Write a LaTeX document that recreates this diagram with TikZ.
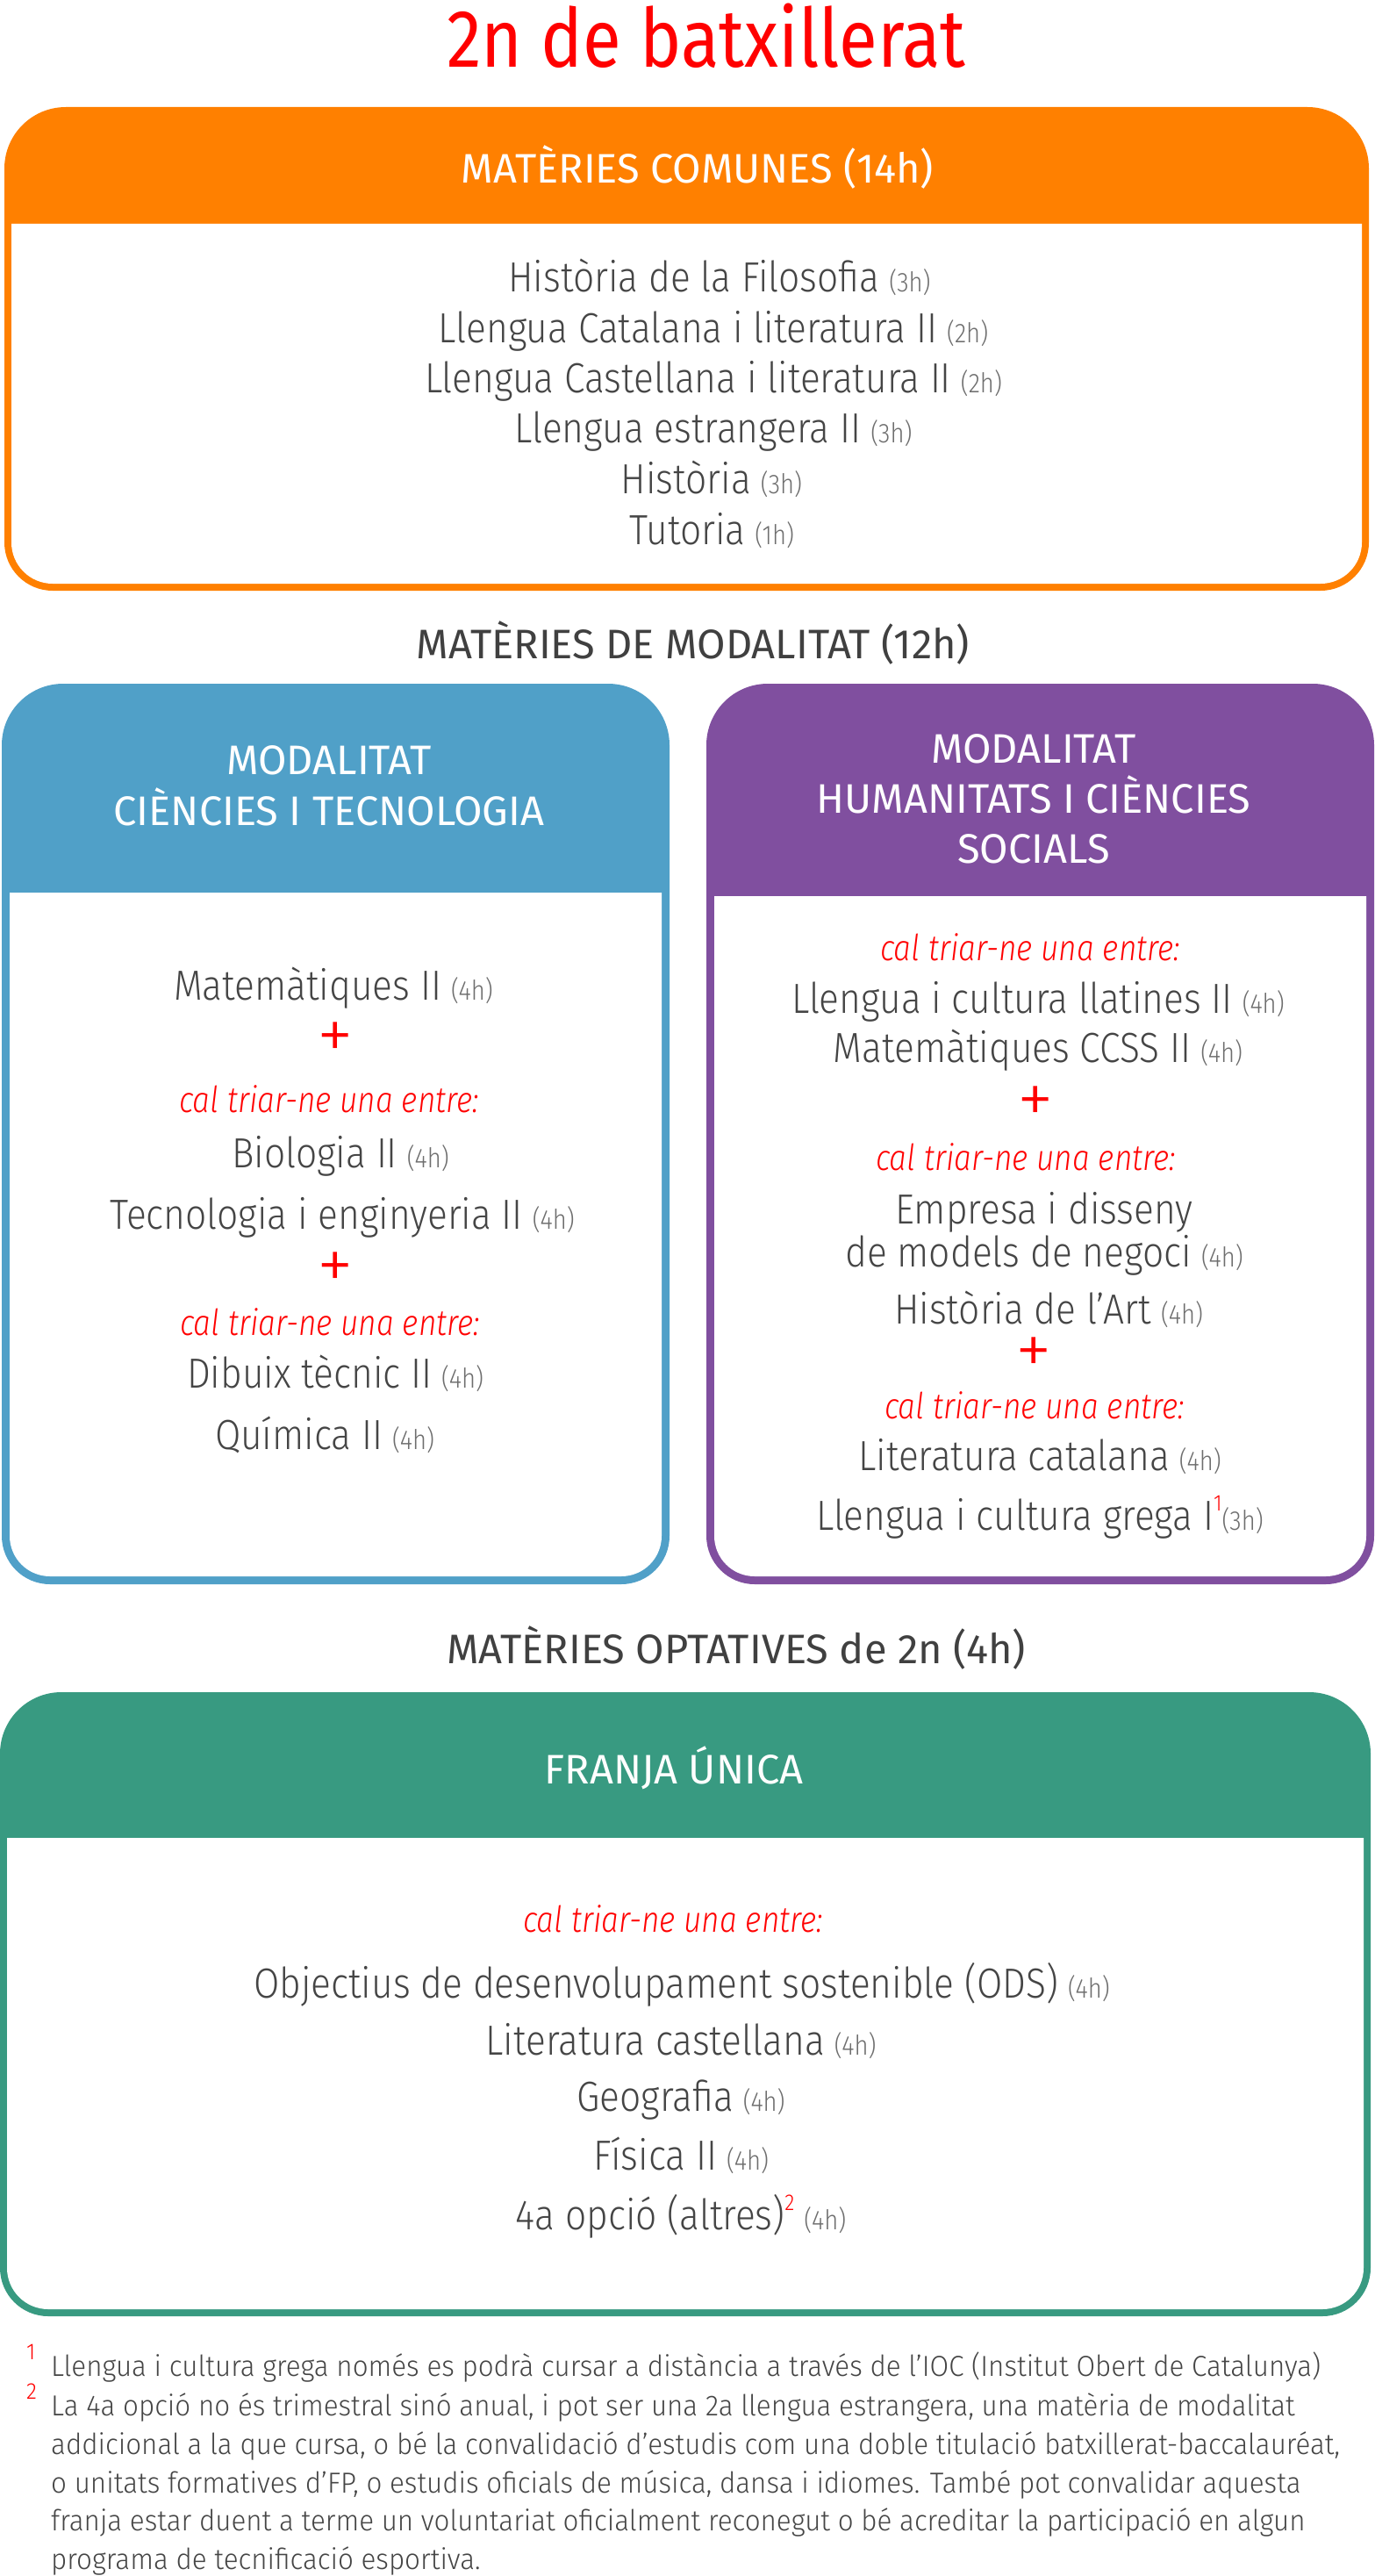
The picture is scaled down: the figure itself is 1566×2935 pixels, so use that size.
\documentclass[tikz,border=0pt]{standalone}
\usepackage{fontspec}
\setmainfont{Fira Sans Light}[FakeStretch=0.885, ItalicFont={Fira Sans Light Italic}, BoldFont={Fira Sans}]
\newfontfamily\fnfont{Fira Sans Light}[FakeStretch=0.95]
\newfontfamily\capfont{Fira Sans}
\newfontfamily\titlefont{Fira Sans}[FakeStretch=0.86]
\newfontfamily\itfont{Fira Sans Light Italic}[FakeStretch=0.86]
\newfontfamily\plusfont{Fira Sans Light}
\definecolor{corange}{HTML}{FF8000}
\definecolor{cblue}{HTML}{50A0C8}
\definecolor{cpurple}{HTML}{804F9F}
\definecolor{cgreen}{HTML}{389A81}
\definecolor{cred}{HTML}{FF0000}
\definecolor{tgray}{HTML}{454545}
\definecolor{hgray}{HTML}{6E6E6E}
\definecolor{sgray}{HTML}{404040}
\newcommand\hrs[1]{\hspace{11pt}{\fontsize{31}{31}\selectfont\color{hgray}(#1)}}
\newcommand\fnsup[1]{\raisebox{22pt}{\fontsize{26}{26}\selectfont\color{cred}#1}}
% x1 y1 x2 y2 headerbottom colour border
\newcommand\catbox[7]{%
  \fill[#6] (#1,#2+70) arc[start angle=180,end angle=270,radius=70] -- (#3-70,#2)
    arc[start angle=270,end angle=360,radius=70] -- (#3,#4-55)
    arc[start angle=0,end angle=90,radius=55] -- (#1+55,#4)
    arc[start angle=90,end angle=180,radius=55] -- cycle;
  \fill[white] (#1+#7,#5) -- (#3-#7,#5) -- (#3-#7,#4-55)
    arc[start angle=0,end angle=90,radius=55-#7] -- (#1+55,#4-#7)
    arc[start angle=90,end angle=180,radius=55-#7] -- cycle;
}
\tikzset{
  txt/.style={anchor=base, inner sep=0pt, text=tgray, font=\fontsize{48}{58}\selectfont},
  hdr/.style={anchor=base, inner sep=0pt, text=white, font=\capfont\fontsize{47}{57}\selectfont},
  sect/.style={anchor=base, inner sep=0pt, text=sgray, font=\capfont\fontsize{47}{57}\selectfont},
  choose/.style={anchor=base, inner sep=0pt, text=cred, font=\itfont\fontsize{41}{50}\selectfont},
  plus/.style={anchor=center, inner sep=0pt, text=cred, text height=30pt, text depth=0pt, font=\plusfont\fontsize{84}{84}\selectfont},
  fn/.style={anchor=base west, inner sep=0pt, text=tgray, font=\fnfont\fontsize{33}{40}\selectfont},
  fnmark/.style={anchor=base west, inner sep=0pt, text=cred, font=\fnfont\fontsize{26}{26}\selectfont},
}
\begin{document}
\begin{tikzpicture}[x=1pt,y=-1pt]
\useasboundingbox (0,0) rectangle (1566,2935);
% title
\node[anchor=base, inner sep=0pt, text=cred, font=\titlefont\fontsize{93}{100}\selectfont] (title) at (805,77) {2n de batxillerat};
% common subjects
\catbox{5}{122}{1560}{673}{255}{corange}{8}
\node[hdr] (comh) at (795,209) {MATÈRIES COMUNES (14h)};
\node[txt] (c1) at (820,333) {Història de la Filosofia\hrs{3h}};
\node[txt] (c2) at (813,390) {Llengua Catalana i literatura II\hrs{2h}};
\node[txt] (c3) at (813,447) {Llengua Castellana i literatura II\hrs{2h}};
\node[txt] (c4) at (813,504) {Llengua estrangera II\hrs{3h}};
\node[txt] (c5) at (811,562) {Història\hrs{3h}};
\node[txt] (c6) at (811,620) {Tutoria\hrs{1h}};
% modality
\node[sect] (modt) at (790,750) {MATÈRIES DE MODALITAT (12h)};
\catbox{2}{779}{763}{1805}{1017}{cblue}{9}
\node[hdr] (bh1) at (375,882) {MODALITAT};
\node[hdr] (bh2) at (375,940) {CIÈNCIES I TECNOLOGIA};
\node[txt] (b1) at (380,1139) {Matemàtiques II\hrs{4h}};
\node[plus] (bp1) at (382,1192) {+};
\node[choose] (bc1) at (375,1267) {cal triar-ne una entre:};
\node[txt] (b2) at (388,1330) {Biologia II\hrs{4h}};
\node[txt] (b3) at (390,1400) {Tecnologia i enginyeria II\hrs{4h}};
\node[plus] (bp2) at (382,1454) {+};
\node[choose] (bc2) at (376,1521) {cal triar-ne una entre:};
\node[txt] (b4) at (382,1581) {Dibuix tècnic II\hrs{4h}};
\node[txt] (b5) at (370,1651) {Química II\hrs{4h}};
\catbox{805}{779}{1566}{1805}{1021}{cpurple}{9}
\node[hdr] (ph1) at (1178,869) {MODALITAT};
\node[hdr] (ph2) at (1178,926) {HUMANITATS I CIÈNCIES};
\node[hdr] (ph3) at (1178,983) {SOCIALS};
\node[choose] (pc1) at (1174,1094) {cal triar-ne una entre:};
\node[txt] (p1) at (1183,1154) {Llengua i cultura llatines II\hrs{4h}};
\node[txt] (p2) at (1183,1210) {Matemàtiques CCSS II\hrs{4h}};
\node[plus] (pp1) at (1180,1265) {+};
\node[choose] (pc2) at (1169,1333) {cal triar-ne una entre:};
\node[txt] (p3) at (1190,1394) {Empresa i disseny};
\node[txt] (p4) at (1190,1443) {de models de negoci\hrs{4h}};
\node[txt] (p5) at (1195,1508) {Història de l’Art\hrs{4h}};
\node[plus] (pp2) at (1178,1551) {+};
\node[choose] (pc3) at (1179,1616) {cal triar-ne una entre:};
\node[txt] (p6) at (1185,1675) {Literatura catalana\hrs{4h}};
\node[txt] (p7) at (1185,1743) {Llengua i cultura grega I\fnsup{1}{\fontsize{31}{31}\selectfont\color{hgray}(3h)}};
% optional
\node[sect] (optt) at (839,1895) {MATÈRIES OPTATIVES de 2n (4h)};
\catbox{0}{1928}{1562}{2639}{2094}{cgreen}{8}
\node[hdr] (gh) at (768,2032) {FRANJA ÚNICA};
\node[choose] (gc) at (767,2201) {cal triar-ne una entre:};
\node[txt] (g1) at (777,2276) {Objectius de desenvolupament sostenible (ODS)\hrs{4h}};
\node[txt] (g2) at (776,2341) {Literatura castellana\hrs{4h}};
\node[txt] (g3) at (776,2405) {Geografia\hrs{4h}};
\node[txt] (g4) at (776,2472) {Física II\hrs{4h}};
\node[txt] (g5) at (776,2540) {4a opció (altres)\fnsup{2}\hrs{4h}};
% footnotes
\node[fnmark] (m1) at (30,2688) {1};
\node[fn] (f1) at (58,2707) {Llengua i cultura grega només es podrà cursar a distància a través de l’IOC (Institut Obert de Catalunya)};
\node[fnmark] (m2) at (30,2733) {2};
\node[fn] (f2) at (58,2752) {La 4a opció no és trimestral sinó anual, i pot ser una 2a llengua estrangera, una matèria de modalitat};
\node[fn] (f3) at (58,2796) {addicional a la que cursa, o bé la convalidació d’estudis com una doble titulació batxillerat-baccalauréat,};
\node[fn] (f4) at (58,2840) {o unitats formatives d’FP, o estudis oficials de música, dansa i idiomes. També pot convalidar aquesta};
\node[fn] (f5) at (58,2883) {franja estar duent a terme un voluntariat oficialment reconegut o bé acreditar la participació en algun};
\node[fn] (f6) at (58,2927) {programa de tecnificació esportiva.};
\end{tikzpicture}
\end{document}
